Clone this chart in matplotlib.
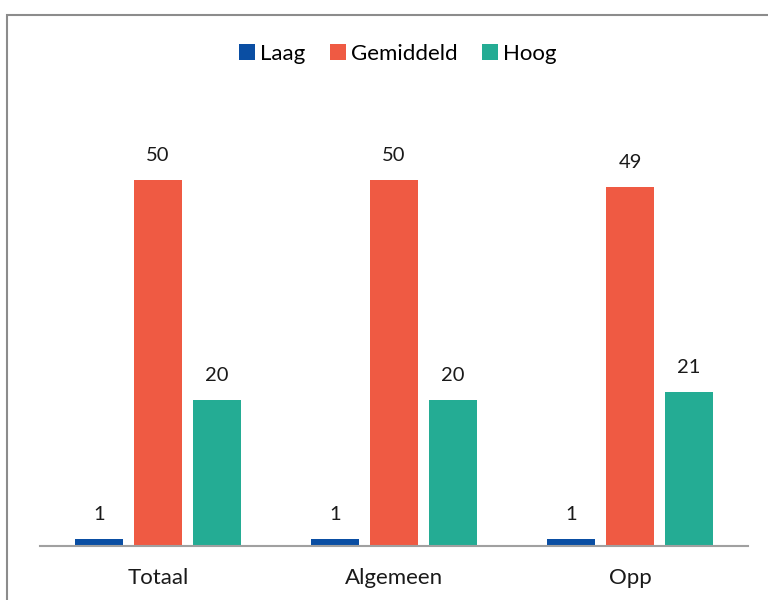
import matplotlib.pyplot as plt
import matplotlib.patches as mpatches
import numpy as np

plt.rcParams['font.family'] = ['Lato', 'DejaVu Sans']

categories = ['Totaal', 'Algemeen', 'Opp']
series = ['Laag', 'Gemiddeld', 'Hoog']
laag = [1, 1, 1]
gemiddeld = [50, 50, 49]
hoog = [20, 20, 21]
colors = ['#0A4EA3', '#EF5A43', '#24AC94']

fig = plt.figure(figsize=(7.68, 6), dpi=100)

# grey frame, cut off at right and bottom like the reference
fig.patches.append(mpatches.Rectangle((7 / 768, -0.1), 1.1, 1 - 15 / 600 + 0.1,
                                      transform=fig.transFigure, fill=False,
                                      edgecolor='#8c8c8c', linewidth=1.5))

ax = fig.add_axes([40 / 768, 54 / 600, 708 / 768, 439 / 600])

x = np.arange(len(categories))
width = 0.2
step = 0.25
for i, (name, vals) in enumerate(zip(series, [laag, gemiddeld, hoog])):
    bars = ax.bar(x + (i - 1) * step, vals, width, color=colors[i], label=name)
    for b, v in zip(bars, vals):
        ax.text(b.get_x() + b.get_width() / 2, v + 2.2, str(v),
                ha='center', va='bottom', fontsize=14.5, color='#1a1a1a')

ax.set_xlim(-0.5, 2.5)
ax.set_ylim(0, 60)
ax.set_xticks(x)
ax.set_xticklabels(categories, fontsize=16, color='#1a1a1a')
ax.tick_params(axis='x', length=0, pad=16)
ax.set_yticks([])
for s in ['top', 'right', 'left']:
    ax.spines[s].set_visible(False)
ax.spines['bottom'].set_color('#a0a0a0')
ax.spines['bottom'].set_linewidth(1.5)

fig.legend(loc='center', bbox_to_anchor=(398 / 768, 1 - 54 / 600), ncol=3,
           frameon=False, fontsize=16, handlelength=0.7, handleheight=0.7,
           handletextpad=0.25, columnspacing=1.1)

fig.savefig('out.png', dpi=100)
